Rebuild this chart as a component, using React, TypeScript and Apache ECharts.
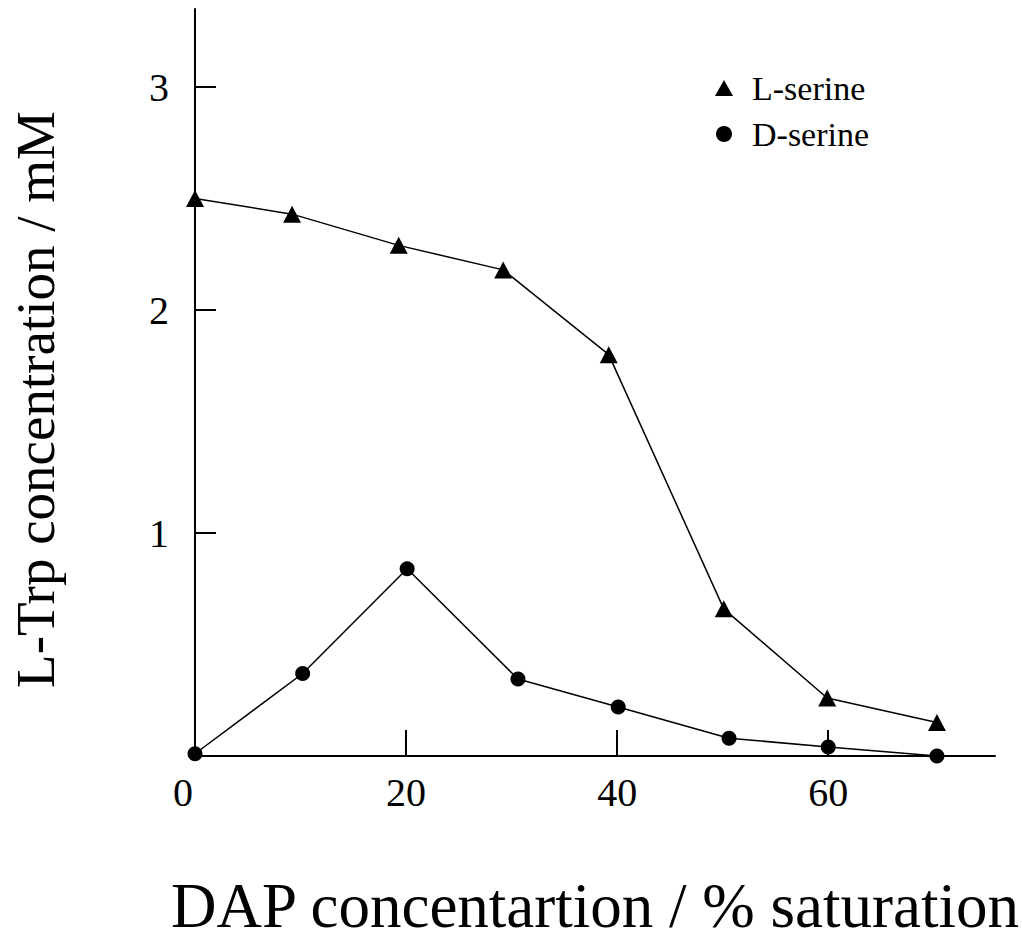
import React, { useEffect, useRef } from "react";
import * as echarts from "echarts";

const seriesNames = ["L-serine", "D-serine"];
const lSerine: [number, number][] = [
  [0, 2.5], [9.2, 2.43], [19.3, 2.29], [29.2, 2.18], [39.2, 1.8], [50.1, 0.66], [59.9, 0.26], [70.3, 0.15],
];
const dSerine: [number, number][] = [
  [0, 0.01], [10.2, 0.37], [20.1, 0.84], [30.6, 0.345], [40.1, 0.22], [50.6, 0.08], [60, 0.04], [70.3, 0.0],
];
const xLabelValues = [0, 20, 40, 60];
const xTickValues = [20, 40, 60];
const yLabelValues = [1, 2, 3];
const yTickValues = [1, 2, 3];
const xTitle = "DAP concentartion / % saturation";
const yTitle = "L-Trp concentration / mM";

const FONT = "Liberation Serif";

export default function App() {
  const ref = useRef<HTMLDivElement>(null);
  useEffect(() => {
    if (!ref.current) return;
    const chart = echarts.init(ref.current, null, { renderer: "svg" });
    chart.setOption({
      animation: false,
      backgroundColor: "#ffffff",
      grid: { left: 192, right: 27, top: 9, bottom: 187, containLabel: false },
      legend: {
        orient: "vertical",
        left: 710,
        top: 66,
        itemWidth: 18,
        itemHeight: 16,
        itemGap: 12,
        data: [
          { name: seriesNames[0], icon: "triangle" },
          { name: seriesNames[1], icon: "circle" },
        ],
        textStyle: { fontFamily: FONT, fontSize: 34, color: "#000", lineHeight: 34, padding: [0, 0, 0, 14] },
      },
      xAxis: {
        type: "value",
        min: 0,
        max: 75.8,
        interval: 20,
        splitLine: { show: false },
        axisLine: { lineStyle: { color: "#000", width: 2 } },
        axisTick: { show: true, inside: true, length: 26, customValues: xTickValues, lineStyle: { color: "#000", width: 2 } },
        axisLabel: {
          customValues: xLabelValues,
          fontFamily: FONT,
          fontSize: 40,
          color: "#000",
          margin: 16,
          formatter: (v: number) => (v === 0 ? "{z|0}" : String(v)),
          rich: { z: { fontFamily: FONT, fontSize: 40, color: "#000", padding: [0, 24, 0, 0] } },
        },
        name: xTitle,
        nameLocation: "middle",
        nameGap: 118,
        nameTextStyle: { fontFamily: FONT, fontSize: 63, color: "#000" },
      },
      yAxis: {
        type: "value",
        min: 0,
        max: 3.35,
        interval: 1,
        splitLine: { show: false },
        axisLine: { show: true, lineStyle: { color: "#000", width: 2 } },
        axisTick: { show: true, inside: true, length: 21, customValues: yTickValues, lineStyle: { color: "#000", width: 2 } },
        axisLabel: { customValues: yLabelValues, fontFamily: FONT, fontSize: 40, color: "#000", margin: 26 },
        name: yTitle,
        nameLocation: "middle",
        nameGap: 132,
        nameTextStyle: { fontFamily: FONT, fontSize: 55, color: "#000", padding: [0, 34, 0, 0] },
      },
      series: [
        {
          name: seriesNames[0],
          type: "line",
          data: lSerine,
          symbol: "triangle",
          symbolSize: [18, 17],
          clip: false,
          lineStyle: { color: "#000", width: 1.5 },
          itemStyle: { color: "#000" },
        },
        {
          name: seriesNames[1],
          type: "line",
          data: dSerine,
          symbol: "circle",
          symbolSize: 15,
          clip: false,
          lineStyle: { color: "#000", width: 1.5 },
          itemStyle: { color: "#000" },
        },
      ],
    });
    return () => chart.dispose();
  }, []);
  return (
    <div
      ref={ref}
      style={{ position: "fixed", left: 0, top: 0, width: 1022, height: 943, background: "#fff" }}
    />
  );
}
